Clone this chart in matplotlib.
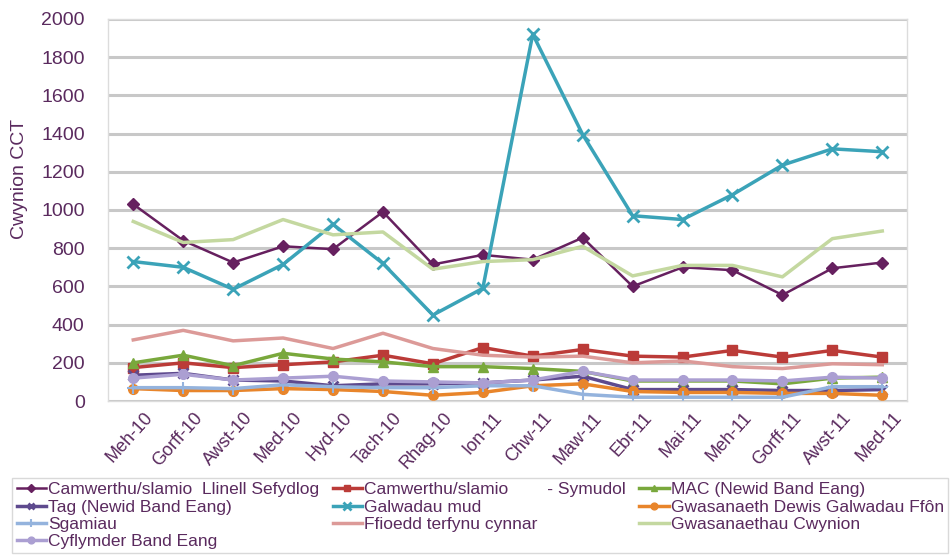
import matplotlib
matplotlib.use('Agg')
import matplotlib.pyplot as plt
from matplotlib.transforms import ScaledTranslation

plt.rcParams['font.family'] = ['Liberation Sans', 'DejaVu Sans']

months = ['Meh-10', 'Gorff-10', 'Awst-10', 'Med-10', 'Hyd-10', 'Tach-10', 'Rhag-10', 'Ion-11',
          'Chw-11', 'Maw-11', 'Ebr-11', 'Mai-11', 'Meh-11', 'Gorff-11', 'Awst-11', 'Med-11']

llinell = [1030, 840, 725, 810, 795, 990, 715, 765, 740, 855, 600, 700, 685, 555, 695, 725]
symudol = [175, 200, 175, 190, 205, 240, 195, 280, 235, 270, 235, 230, 265, 230, 265, 230]
mac = [200, 240, 185, 250, 220, 205, 180, 180, 170, 155, 105, 105, 105, 90, 120, 125]
tag = [135, 145, 110, 105, 80, 90, 90, 95, 110, 130, 60, 60, 60, 55, 55, 60]
mud = [730, 700, 585, 715, 925, 720, 450, 590, 1920, 1395, 970, 950, 1080, 1235, 1320, 1305]
dewis = [65, 55, 55, 65, 60, 50, 30, 45, 80, 90, 50, 45, 45, 40, 40, 30]
sgamiau = [70, 70, 65, 85, 75, 70, 70, 80, 80, 35, 20, 20, 20, 20, 75, 75]
ffioedd = [320, 370, 315, 330, 275, 355, 275, 240, 230, 235, 200, 210, 180, 170, 195, 190]
cwynion = [940, 830, 845, 950, 870, 885, 690, 730, 740, 810, 655, 710, 710, 650, 850, 890]
cyflymder = [120, 140, 110, 120, 130, 105, 100, 95, 110, 155, 110, 110, 110, 105, 125, 120]

txt = '#5a2a5e'

fig = plt.figure(figsize=(9.5, 5.57), dpi=100)
ax = fig.add_axes([0.114, 0.28, 0.841, 0.686])
x = range(len(months))

h = {}
h['llinell'], = ax.plot(x, llinell, color='#66205f', marker='D', ms=6, lw=1.8)
h['symudol'], = ax.plot(x, symudol, color='#bb3b38', marker='s', ms=7, lw=2.5)
h['mac'], = ax.plot(x, mac, color='#79a83c', marker='^', ms=7, lw=2.5)
h['tag'], = ax.plot(x, tag, color='#5e4a8e', marker='x', ms=7, mew=2, lw=2.5)
h['mud'], = ax.plot(x, mud, color='#3ba3b8', marker='x', ms=8, mew=2, lw=2.5)
h['dewis'], = ax.plot(x, dewis, color='#e8852b', marker='o', ms=7, lw=2.5)
h['sgamiau'], = ax.plot(x, sgamiau, color='#94b3dd', marker='+', ms=8, mew=1.5, lw=2.5)
h['ffioedd'], = ax.plot(x, ffioedd, color='#dc9a98', lw=2.5)
h['cwynion'], = ax.plot(x, cwynion, color='#c4d8a0', lw=2.5)
h['cyflymder'], = ax.plot(x, cyflymder, color='#ab9fd2', marker='o', ms=7, lw=2.5)

ax.set_ylim(0, 2000)
ax.set_xlim(-0.5, len(months) - 0.5)
ax.set_yticks(range(0, 2001, 200))
ax.tick_params(axis='y', length=0, labelsize=14, labelcolor=txt, pad=17)
ax.tick_params(axis='x', length=0, labelsize=13, labelcolor=txt, pad=6)
ax.set_xticks(list(x))
ax.set_xticklabels(months, rotation=48, ha='right', rotation_mode='anchor')
shift = ScaledTranslation(10 / 100, 0, fig.dpi_scale_trans)
for lbl in ax.get_xticklabels():
    lbl.set_transform(lbl.get_transform() + shift)
ax.set_ylabel('Cwynion CCT', fontsize=14, color=txt)
ax.yaxis.set_label_coords(-0.1, 0.58)
ax.grid(axis='y', color='#c8c8c8', lw=2.2)
ax.set_axisbelow(True)
for s in ax.spines.values():
    s.set_color('#dcdcdc')
    s.set_linewidth(1)

order = [('llinell', 'Camwerthu/slamio  Llinell Sefydlog'),
         ('tag', 'Tag (Newid Band Eang)'),
         ('sgamiau', 'Sgamiau'),
         ('cyflymder', 'Cyflymder Band Eang'),
         ('symudol', 'Camwerthu/slamio        - Symudol'),
         ('mud', 'Galwadau mud'),
         ('ffioedd', 'Ffioedd terfynu cynnar'),
         ('mac', 'MAC (Newid Band Eang)'),
         ('dewis', 'Gwasanaeth Dewis Galwadau Ffôn'),
         ('cwynion', 'Gwasanaethau Cwynion')]
leg = fig.legend([h[k] for k, _ in order], [l for _, l in order], ncol=3,
                 loc='upper left', bbox_to_anchor=(0.013, 0.0, 0.985, 0.142), mode='expand',
                 fontsize=12.5, frameon=True, fancybox=False, edgecolor='#d0d0d0',
                 handlelength=1.7, handletextpad=0.1, labelspacing=0.12,
                 borderpad=0.25, borderaxespad=0, columnspacing=0.5, markerscale=0.7)
for t in leg.get_texts():
    t.set_color(txt)

fig.savefig('out.png', dpi=100)
